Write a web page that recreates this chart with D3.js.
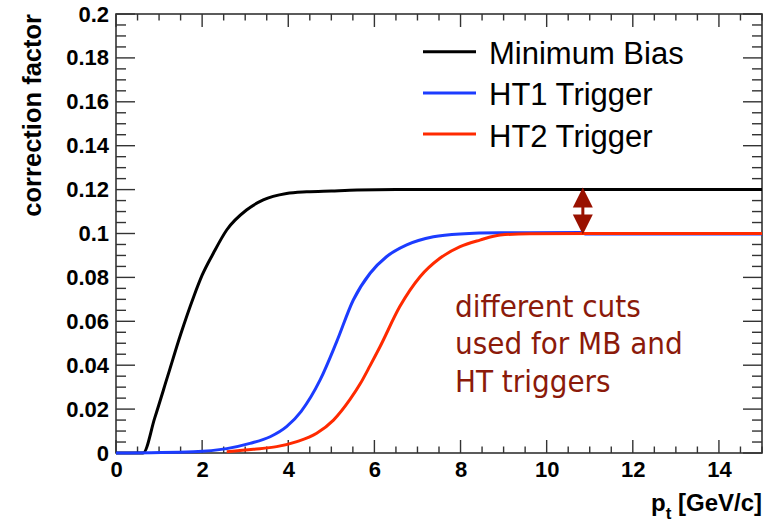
<!DOCTYPE html>
<html><head><meta charset="utf-8">
<script src="https://cdn.jsdelivr.net/npm/d3@7"></script>
<style>body{margin:0;background:#fff}svg{display:block}</style>
</head><body>
<svg id="c" width="769" height="527"></svg>
<script>
// ---- data ----
const xTickLabels = [0, 2, 4, 6, 8, 10, 12, 14];
const yTickLabels = [0, 0.02, 0.04, 0.06, 0.08, 0.1, 0.12, 0.14, 0.16, 0.18, 0.2];
const seriesNames = ["Minimum Bias", "HT1 Trigger", "HT2 Trigger"];
const seriesColors = ["#000000", "#1c3cff", "#ff2a00"];

const mbX = [0, 0.63, 0.9, 1.2, 1.5, 1.8, 2.0, 2.26, 2.57, 3.03, 3.42, 3.96, 4.43, 5.0, 5.6, 6.5, 8, 10, 12, 15];
const mbY = [0, 0, 0.016, 0.035, 0.054, 0.071, 0.081, 0.091, 0.1016, 0.1107, 0.1153, 0.1182, 0.119, 0.1194, 0.1198, 0.12, 0.12, 0.12, 0.12, 0.12];

const ht1X = [0, 1.8, 2.57, 3.11, 3.58, 3.96, 4.3, 4.74, 5.12, 5.51, 5.9, 6.28, 6.75, 7.37, 7.99, 8.92, 10.8, 10.9, 15];
const ht1Y = [0, 0.0006, 0.002, 0.0044, 0.0074, 0.012, 0.019, 0.0333, 0.0505, 0.0697, 0.0819, 0.0894, 0.0948, 0.0985, 0.0998, 0.1003, 0.1004, 0.0998, 0.0998];

const ht2X = [2.57, 3.19, 3.73, 4.2, 4.66, 5.05, 5.43, 5.67, 5.9, 6.13, 6.59, 7.06, 7.52, 7.99, 8.45, 8.92, 9.6, 11, 15];
const ht2Y = [0.0006, 0.0017, 0.0029, 0.0052, 0.009, 0.015, 0.0243, 0.0315, 0.0398, 0.0484, 0.0667, 0.0803, 0.0887, 0.094, 0.097, 0.0993, 0.0999, 0.1, 0.1];

const annotationLines = ["different cuts", "used for MB and", "HT triggers"];
const arrowX = 10.84, arrowTop = 0.12, arrowBottom = 0.1;

// ---- layout ----
const L = 116, R = 762, T = 14, B = 453;
const svg = d3.select("#c");
const x = d3.scaleLinear().domain([0, 15]).range([L, R]);
const y = d3.scaleLinear().domain([0, 0.2]).range([B, T]);

const frameColor = "#333";
const tickFont = "'Liberation Sans', Arial, sans-serif";

// ticks (all four sides)
const xMinor = d3.range(0, 15.001, 0.5);
const yMinor = d3.range(0, 0.2001, 0.005);
const isMajorX = v => Math.abs(v / 2 - Math.round(v / 2)) < 1e-6;
const isMajorY = v => Math.abs(v / 0.02 - Math.round(v / 0.02)) < 1e-6;

const tk = svg.append("g").attr("stroke", frameColor).attr("stroke-width", 1.4);
xMinor.forEach(v => {
  const len = isMajorX(v) ? 13 : 6.5;
  tk.append("line").attr("x1", x(v)).attr("x2", x(v)).attr("y1", B).attr("y2", B - len);
  tk.append("line").attr("x1", x(v)).attr("x2", x(v)).attr("y1", T).attr("y2", T + len);
});
yMinor.forEach(v => {
  const len = isMajorY(v) ? 19 : 10;
  tk.append("line").attr("y1", y(v)).attr("y2", y(v)).attr("x1", L).attr("x2", L + len);
  tk.append("line").attr("y1", y(v)).attr("y2", y(v)).attr("x1", R).attr("x2", R - len);
});

// frame
svg.append("rect").attr("x", L).attr("y", T).attr("width", R - L).attr("height", B - T)
  .attr("fill", "none").attr("stroke", frameColor).attr("stroke-width", 1.6);

// axes labels via d3 axes (tick labels only)
const xAxis = d3.axisBottom(x).tickValues(xTickLabels).tickSize(0).tickPadding(8).tickFormat(d3.format("d"));
const gx = svg.append("g").attr("transform", `translate(0,${B})`).call(xAxis);
gx.select(".domain").remove();
gx.selectAll("text").attr("font-family", tickFont).attr("font-weight", "bold").attr("font-size", 22).attr("fill", "#000");

const yAxis = d3.axisLeft(y).tickValues(yTickLabels).tickSize(0).tickPadding(7).tickFormat(d => d === 0 ? "0" : String(+d.toFixed(2)));
const gy = svg.append("g").attr("transform", `translate(${L},0)`).call(yAxis);
gy.select(".domain").remove();
gy.selectAll("text").attr("font-family", tickFont).attr("font-weight", "bold").attr("font-size", 22).attr("fill", "#000");

// axis titles
svg.append("text").attr("transform", `translate(41,${T}) rotate(-90)`)
  .attr("text-anchor", "end").attr("font-family", tickFont).attr("font-weight", "bold")
  .attr("font-size", 25.5).text("correction factor");

const xt = svg.append("text").attr("x", R).attr("y", 511).attr("text-anchor", "end")
  .attr("font-family", tickFont).attr("font-weight", "bold").attr("font-size", 24);
xt.append("tspan").text("p");
xt.append("tspan").attr("dy", 8).attr("font-size", 17).text("t");
xt.append("tspan").attr("dy", -8).text(" [GeV/c]");

// curves
const line = d3.line().x(d => x(d[0])).y(d => y(d[1])).curve(d3.curveMonotoneX);
const series = [d3.zip(mbX, mbY), d3.zip(ht1X, ht1Y), d3.zip(ht2X, ht2Y)];
const plot = svg.append("g");
series.forEach((s, i) => {
  plot.append("path").attr("d", line(s)).attr("fill", "none")
    .attr("stroke", seriesColors[i]).attr("stroke-width", 3).attr("stroke-linejoin", "round");
});

// legend
const lg = svg.append("g");
seriesNames.forEach((n, i) => {
  const yy = 51.7 + i * 41.2;
  lg.append("line").attr("x1", 423).attr("x2", 476).attr("y1", yy).attr("y2", yy)
    .attr("stroke", seriesColors[i]).attr("stroke-width", 3);
  lg.append("text").attr("x", 489).attr("y", yy + 12.5).attr("font-family", tickFont)
    .attr("font-size", 31).attr("fill", "#000").text(n);
});

// double arrow
const ac = "#991100";
const ax = x(arrowX), ya = y(arrowTop), yb = y(arrowBottom);
svg.append("line").attr("x1", ax).attr("x2", ax).attr("y1", ya + 10).attr("y2", yb - 10)
  .attr("stroke", ac).attr("stroke-width", 3);
svg.append("path").attr("d", `M${ax},${ya - 2} L${ax - 10},${ya + 18} L${ax + 10},${ya + 18} Z`).attr("fill", ac);
svg.append("path").attr("d", `M${ax},${yb + 1} L${ax - 10},${yb - 19} L${ax + 10},${yb - 19} Z`).attr("fill", ac);

// annotation
const an = svg.append("text").attr("font-family", "'DejaVu Sans Condensed', 'DejaVu Sans', sans-serif")
  .attr("font-size", 31).attr("fill", "#8b1a0a");
annotationLines.forEach((t, i) => {
  an.append("tspan").attr("x", 455).attr("y", 316.5 + i * 37.5).text(t);
});
</script>
</body></html>
